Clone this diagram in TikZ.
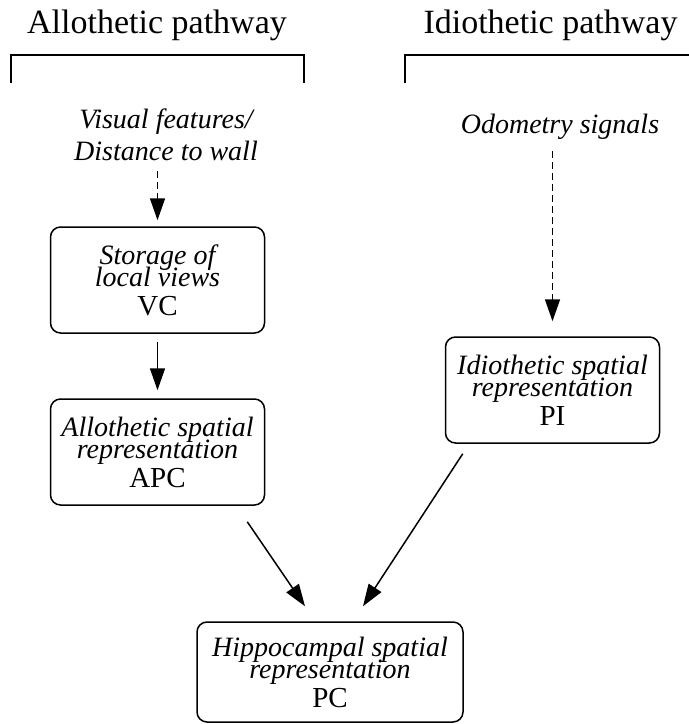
\documentclass[tikz,border=0pt]{standalone}
\usepackage{fontspec}
\setmainfont{Liberation Serif}
\usetikzlibrary{arrows.meta, positioning}
\newcommand{\cellfont}{\fontsize{28}{22}\selectfont\itshape\lineskiplimit-30pt\relax}
\newcommand{\cellname}[1]{{\upshape\fontsize{29}{29}\selectfont #1}}
\tikzstyle{cell} = [draw, rectangle, rounded corners=10pt, line width=1.5pt, minimum width=214pt, minimum height=106pt, align=center, font=\cellfont, inner sep=0pt]
\tikzstyle{heading} = [font=\fontsize{34}{40}\selectfont, anchor=base, inner sep=0pt]
\tikzstyle{signal} = [font=\fontsize{28}{32}\selectfont\itshape, align=center, inner sep=0pt]
\tikzstyle{arrow} = [line width=1.5pt, -{Triangle[length=22pt, width=15pt]}]
\tikzstyle{dasharrow} = [arrow, dash pattern=on 7pt off 4pt]

\begin{document}
\begin{tikzpicture}[x=1pt, y=-1pt]
    \useasboundingbox (0,0) rectangle (689,724);
    % Pathway headings
    \node (AlloHeading) [heading] at (157,33) {Allothetic pathway};
    \node (IdioHeading) [heading] at (550.5,33) {Idiothetic pathway};
    \draw [line width=1.5pt] (11,83) -- (11,55) -- (304,55) -- (304,83);
    \draw [line width=1.5pt] (405,83) -- (405,55) -- (689,55);

    % Inputs
    \node (VisualInput) [signal] at (166,135) {Visual features/\\Distance to wall};
    \node (OdometryInput) [signal, anchor=base] at (560,133) {Odometry signals};

    % Cells
    \node (VC) [cell] at (157.5,280) {Storage of\\local views\\[7pt]\cellname{VC}};
    \node (APC) [cell, below of=VC, node distance=172pt] {Allothetic spatial\\representation\\[7pt]\cellname{APC}};
    \node (PI) [cell] at (552.5,390) {Idiothetic spatial\\representation\\[7pt]\cellname{PI}};
    \node (PC) [cell, minimum width=266pt, minimum height=100pt] at (330,672) {Hippocampal spatial\\representation\\[7pt]\cellname{PC}};

    % Arrows
    \draw [dasharrow, shorten <=10pt, shorten >=6pt] (VisualInput.south -| VC.north) -- (VC.north);
    \draw [dasharrow, shorten <=12pt, shorten >=15pt] (OdometryInput.south -| PI.north) -- (PI.north);
    \draw [arrow, shorten <=8pt, shorten >=8pt] (VC) -- (APC);
    \draw [arrow] ([xshift=-18pt, yshift=-16pt]APC.south east) -- ([xshift=-25pt, yshift=15pt]PC.north);
    \draw [arrow] ([xshift=18pt, yshift=-10pt]PI.south west) -- ([xshift=33pt, yshift=15pt]PC.north);
\end{tikzpicture}
\end{document}
